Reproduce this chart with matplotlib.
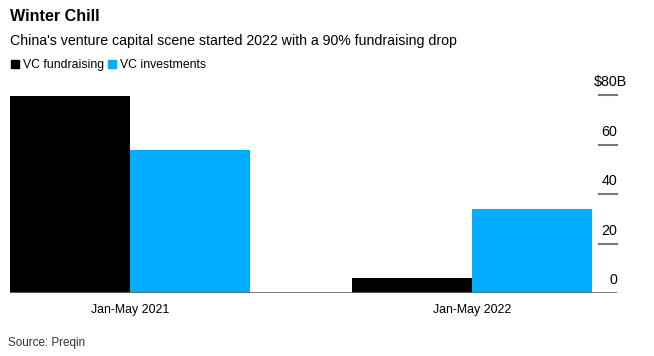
import numpy as np
import matplotlib.pyplot as plt

plt.rcParams['font.family'] = ['Liberation Sans', 'DejaVu Sans']

periods = ['Jan-May 2021', 'Jan-May 2022']
fundraising = [79.6, 5.9]
investments = [57.8, 34.1]
yticks = [0, 20, 40, 60, 80]
ytick_labels = ['0', '20', '40', '60', '$80B']

black = '#000000'
blue = '#00adff'

fig = plt.figure(figsize=(6.54, 3.56), dpi=100)
ax = fig.add_axes([10/654, 1 - 293/356, 607/654, 198/356])

x = np.arange(len(periods))
w = 0.35
ax.bar(x - w/2, fundraising, w, color=black, linewidth=0)
ax.bar(x + w/2, investments, w, color=blue, linewidth=0)

ax.set_xlim(-0.35, 1.424)
ax.set_ylim(0, 80)
for s in ax.spines.values():
    s.set_visible(False)
ax.axhline(0, color='#666666', linewidth=1.2, zorder=3)
ax.set_yticks([])
ax.set_xticks(x)
ax.set_xticklabels(periods, fontsize=8.9)
ax.tick_params(axis='x', length=0, pad=8)

# right-side tick marks with labels sitting above them
for v, lab in zip(yticks, ytick_labels):
    if v > 0:
        ax.plot([1.371, 1.424], [v, v], color='#777777', linewidth=1.5, clip_on=False)
    # the "B" unit hangs past the right edge, numbers stay aligned
    dx = 6.9 if lab.endswith('B') else 0
    ax.annotate(lab, xy=(1.424, v), xytext=(dx, 4), textcoords='offset points',
                ha='right', va='bottom', fontsize=10.3)

fig.text(10/654, 1 - 21/356, 'Winter Chill', fontsize=11.6, fontweight='bold', va='baseline')
fig.text(10/654, 1 - 45.5/356, "China's venture capital scene started 2022 with a 90% fundraising drop",
         fontsize=10.2, va='baseline')

# legend
fig.patches.append(plt.Rectangle((11/654, 1 - 68/356), 8/654, 8.5/356, color=black,
                                 transform=fig.transFigure, figure=fig))
fig.text(23/654, 1 - 68/356, 'VC fundraising', fontsize=8.8, va='baseline')
fig.patches.append(plt.Rectangle((108/654, 1 - 68/356), 8/654, 8.5/356, color=blue,
                                 transform=fig.transFigure, figure=fig))
fig.text(120/654, 1 - 68/356, 'VC investments', fontsize=8.8, va='baseline')

fig.text(8/654, 1 - 346/356, 'Source: Preqin', fontsize=8.4, color='#333333', va='baseline')

plt.savefig('out.png', dpi=100)
